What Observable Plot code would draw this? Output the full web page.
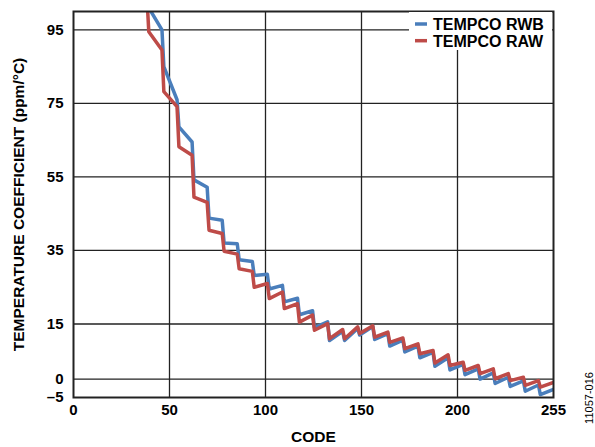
<!DOCTYPE html>
<html><head><meta charset="utf-8">
<script src="https://cdn.jsdelivr.net/npm/d3@7"></script>
<script src="https://cdn.jsdelivr.net/npm/@observablehq/plot@0.6"></script>
<style>
body{margin:0;background:#fff;}
#wrap{position:relative;width:595px;height:447px;}
#over{position:absolute;left:0;top:0;pointer-events:none;}
#over text{font-family:"Liberation Sans",Arial,sans-serif;}
g[aria-label="y-axis label"] text, g[aria-label="x-axis label"] text{font-size:15.5px;}
</style>
</head><body>
<div id="wrap"></div>
<script>
// Segment start codes (each segment spans 8 codes)
const segStart = [32,40,48,56,64,72,80,88,96,104,112,120,128,136,144,152,160,168,176,184,192,200,208,216,224,232,240,248];
// TEMPCO RWB (blue): value at segment start and at segment end
const blueStart = [112,101,85,68.6,54.2,43.8,37.0,32.5,28.2,24.5,21.0,17.5,14.0,10.5,10.5,12.0,10.8,9.0,7.4,5.8,3.5,2.5,1.2,0.0,-1.2,-2.0,-3.3,-4.2];
const blueEnd   = [107,95,76,64.5,52.2,43.2,36.8,32.0,28.5,25.5,22.0,18.6,15.6,13.0,13.8,14.3,12.4,10.6,9.0,7.3,5.8,4.0,2.8,1.7,0.5,-0.5,-1.6,-2.8];
// TEMPCO RAW (red)
const redStart  = [110,94.5,78.2,63.2,49.5,40.5,34.8,30.0,25.0,21.9,19.2,15.5,13.3,11.0,11.0,12.4,11.4,10.0,8.3,6.9,4.4,3.7,2.4,1.5,0.1,-0.4,-1.7,-2.2];
const redEnd    = [104,89.5,74.1,60.9,48.1,39.6,34.0,29.3,26.0,23.7,20.5,17.4,15.1,13.5,14.2,14.5,12.8,11.2,9.6,7.8,6.6,4.6,3.7,2.8,1.5,0.5,-0.4,-0.9];

const seriesNames = ["TEMPCO RWB","TEMPCO RAW"];
const seriesColors = ["#4a7ebb","#be4b48"];

const xTickValues = [0,51,102,153,204,255];
const xTickLabels = ["0","50","100","150","200","255"];
const yTickValues = [-5,0,15,35,55,75,95];
const yGrid = [0,15,35,55,75,95];
const xGrid = [51,102,153,204];

function build(starts, ends, name){
  const pts = [];
  segStart.forEach((c,i)=>{
    pts.push({code:c, v:starts[i], series:name});
    pts.push({code:Math.min(c+7,255), v:ends[i], series:name});
  });
  return pts;
}
const blue = build(blueStart, blueEnd, seriesNames[0]);
const red = build(redStart, redEnd, seriesNames[1]);

const chart = Plot.plot({
  width:595, height:447,
  marginLeft:73, marginRight:42, marginTop:11, marginBottom:50,
  style:{fontFamily:"'Liberation Sans', Arial, sans-serif", fontSize:"15px", fontWeight:"bold", color:"#000", background:"#fff"},
  x:{domain:[0,255]},
  y:{domain:[-5,100]},
  marks:[
    Plot.ruleY(yGrid, {stroke:"#222", strokeWidth:1.3}),
    Plot.ruleX(xGrid, {stroke:"#222", strokeWidth:1.3}),
    Plot.line(blue, {x:"code", y:"v", stroke:seriesColors[0], strokeWidth:3.5, clip:true}),
    Plot.line(red, {x:"code", y:"v", stroke:seriesColors[1], strokeWidth:3.5, clip:true}),
    Plot.frame({stroke:"#222", strokeWidth:2}),
    Plot.axisX(xTickValues, {tickSize:0, tickPadding:7, tickFormat:d => xTickLabels[xTickValues.indexOf(d)], label:"CODE", labelAnchor:"center", labelArrow:"none", labelOffset:44}),
    Plot.axisY(yTickValues, {tickSize:0, tickPadding:10, tickFormat:d => d < 0 ? "\u2013" + (-d) : String(d), label:"TEMPERATURE COEFFICIENT (ppm/\u00B0C)", labelAnchor:"center", labelArrow:"none", labelOffset:61})
  ]
});
const wrap = document.getElementById("wrap");
wrap.appendChild(chart);

// Overlay: legend and figure number
const NS = "http://www.w3.org/2000/svg";
const over = document.createElementNS(NS, "svg");
over.setAttribute("id","over"); over.setAttribute("width",595); over.setAttribute("height",447);
const bg = document.createElementNS(NS,"rect");
bg.setAttribute("x",409); bg.setAttribute("y",12); bg.setAttribute("width",143); bg.setAttribute("height",38); bg.setAttribute("fill","#fff");
over.appendChild(bg);
seriesNames.forEach((name,i)=>{
  const y = 24 + i*16.7;
  const ln = document.createElementNS(NS,"line");
  ln.setAttribute("x1",415); ln.setAttribute("x2",427); ln.setAttribute("y1",y); ln.setAttribute("y2",y);
  ln.setAttribute("stroke",seriesColors[i]); ln.setAttribute("stroke-width",3.5);
  over.appendChild(ln);
  const t = document.createElementNS(NS,"text");
  t.setAttribute("x",433); t.setAttribute("y",y+6); t.setAttribute("font-size","16px"); t.setAttribute("font-weight","bold");
  t.textContent = name;
  over.appendChild(t);
});
const fig = document.createElementNS(NS,"text");
fig.setAttribute("transform","translate(593,398) rotate(-90)");
fig.setAttribute("text-anchor","middle"); fig.setAttribute("font-size","11px");
fig.textContent = "11057-016";
over.appendChild(fig);
wrap.appendChild(over);
</script>
</body></html>
